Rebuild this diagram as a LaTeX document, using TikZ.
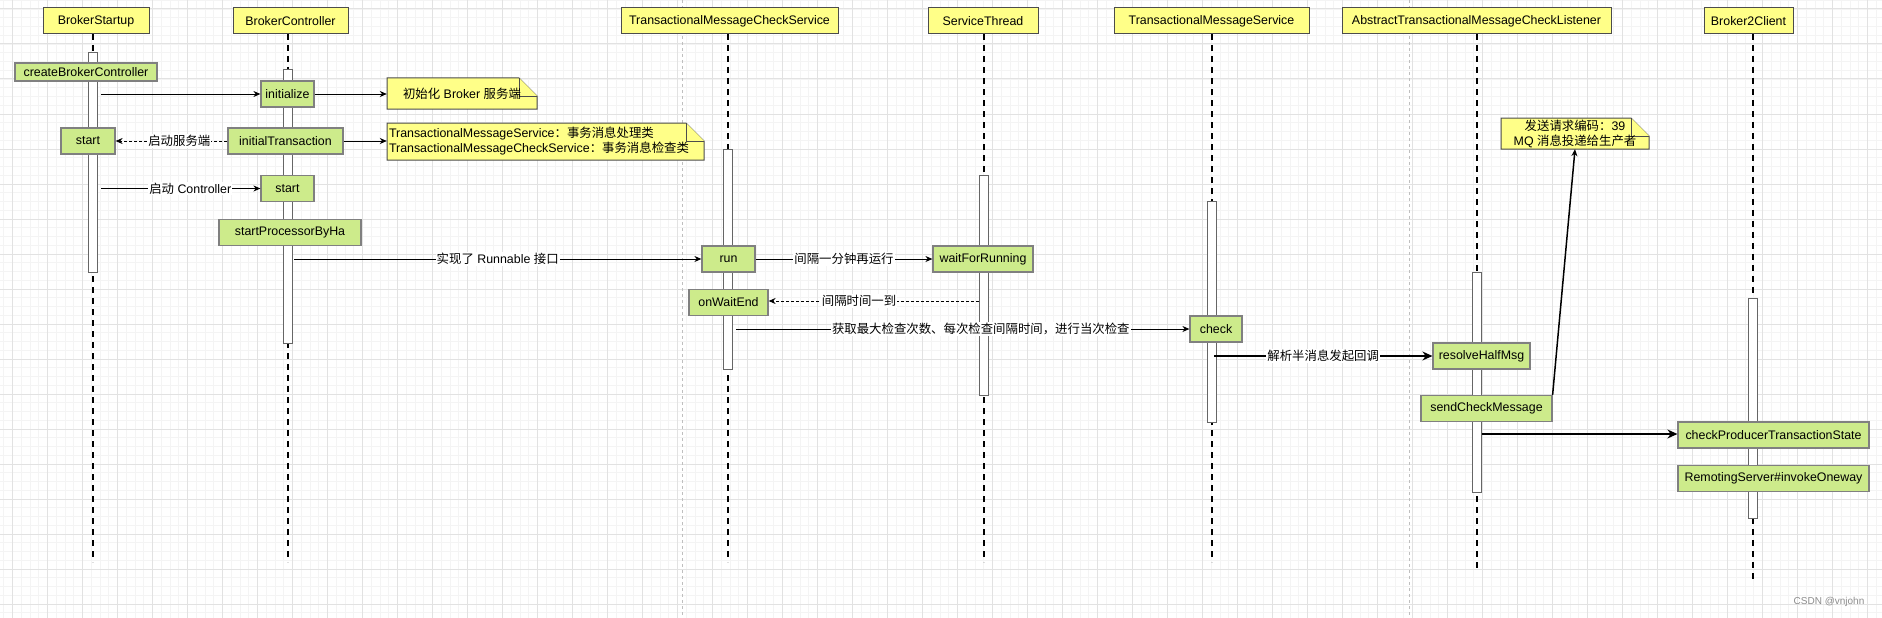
\documentclass[tikz,border=0pt]{standalone}
\usepackage{fontspec}
\setmainfont{Liberation Sans}
\newfontfamily\zhfont{Noto Sans CJK SC}
\newcommand{\zh}[1]{{\zhfont #1}}
\usetikzlibrary{arrows.meta}
\usetikzlibrary{calc}

\definecolor{hdryellow}{HTML}{FFFF88}
\definecolor{callgreen}{HTML}{CDEB8B}
\definecolor{gridmajor}{HTML}{E2E2E2}
\definecolor{gridminor}{HTML}{F4F4F4}

\begin{document}
\begin{tikzpicture}[x=1pt,y=-1pt,
    every node/.style={font=\fontsize{12.4}{15}\selectfont, inner sep=0pt},
    header/.style={draw=black!70, fill=hdryellow, line width=1pt, minimum height=26pt},
    call/.style={draw=black!50, fill=callgreen, line width=1.2pt, minimum height=26pt},
    bar/.style={draw=black!60, fill=white, line width=0.8pt},
    life/.style={line width=2pt, dash pattern=on 6pt off 5pt},
    sep/.style={draw=black!25, line width=0.7pt, dash pattern=on 3pt off 3pt},
    notefill/.style={draw=black!70, fill=hdryellow, line width=1pt},
    msg/.style={line width=1pt, -{Stealth[length=7pt,width=6pt]}},
    ret/.style={msg, dash pattern=on 3pt off 2pt},
    bold/.style={line width=2pt, -{Stealth[length=10pt,width=9pt]}},
    lbl/.style={fill=white, inner sep=1pt}]

    \useasboundingbox (0,0) rectangle (1882,618);

    % grid
    \foreach \gx in {3.75,12.5,...,1882}
        \draw[gridminor, line width=0.8pt] (\gx,0) -- (\gx,618);
    \foreach \gy in {0.25,9,...,618}
        \draw[gridminor, line width=0.8pt] (0,\gy) -- (1882,\gy);
    \foreach \gx in {12.5,47.5,...,1882}
        \draw[gridmajor, line width=1pt] (\gx,0) -- (\gx,618);
    \foreach \gy in {9,44,...,618}
        \draw[gridmajor, line width=1pt] (0,\gy) -- (1882,\gy);

    \foreach \sx in {682,1409}
        \draw[sep] (\sx,0) -- (\sx,618);

    % lifelines and activation bars
    \foreach \lx/\bt/\bb/\le in {92.5/52/272/562, 287.5/69/343/562, 727.5/149/369/562, 983.5/175/395/562,
                                 1211.5/201/422/562, 1476.5/272/492/571, 1752.5/298/518/580} {
        \draw[life] (\lx,34) -- (\lx,\le);
        \draw[bar] (\lx-4.5,\bt) rectangle (\lx+4.5,\bb);
    }

    % headers
    \node[header, minimum width=106pt] (hStartup) at (96,21) {BrokerStartup};
    \node[header, minimum width=115pt] (hController) at (290.5,21) {BrokerController};
    \node[header, minimum width=217pt] (hCheckSvc) at (729.5,21) {TransactionalMessageCheckService};
    \node[header, minimum width=110pt] (hThread) at (983,21) {ServiceThread};
    \node[header, minimum width=195pt] (hMsgSvc) at (1211.5,21) {TransactionalMessageService};
    \node[header, minimum width=269pt] (hListener) at (1476.5,21) {AbstractTransactionalMessageCheckListener};
    \node[header, minimum width=89pt] (hClient) at (1748.5,21) {Broker2Client};

    % calls
    \node[call, minimum width=142pt, minimum height=18pt] (createCtl) at (86,72) {createBrokerController};
    \node[call, minimum width=53pt] (initialize) at (287.5,94) {initialize};
    \node[call, minimum width=54pt] (startA) at (88,141) {start};
    \node[call, minimum width=115pt] (initTx) at (285.5,141) {initialTransaction};
    \node[call, minimum width=53pt] (startB) at (287.5,188.5) {start};
    \node[call, minimum width=142pt] (startHa) at (290,232.5) {startProcessorByHa};
    \node[call, minimum width=53pt] (run) at (728.5,259) {run};
    \node[call, minimum width=100pt] (waitRun) at (983,259) {waitForRunning};
    \node[call, minimum width=79pt] (waitEnd) at (728.5,302.5) {onWaitEnd};
    \node[call, minimum width=52pt] (check) at (1216,329) {check};
    \node[call, minimum width=97pt] (resolveHalf) at (1481.5,356) {resolveHalfMsg};
    \node[call, minimum width=131pt] (sendCheck) at (1486.5,408.5) {sendCheckMessage};
    \node[call, minimum width=191pt] (checkState) at (1773.5,435) {checkProducerTransactionState};
    \node[call, minimum width=191pt] (oneway) at (1773.5,478.5) {RemotingServer\#invokeOneway};

    % notes
    \foreach \xa/\ya/\xb/\yb in {387/78/537/109, 387/123/704/160, 1501/118/1649/149} {
        \draw[notefill] (\xa,\ya) -- (\xb-18,\ya) -- (\xb,\ya+18) -- (\xb,\yb) -- (\xa,\yb) -- cycle;
        \draw[notefill] (\xb-18,\ya) -- (\xb-18,\ya+18) -- (\xb,\ya+18);
    }
    \node[minimum width=150pt, minimum height=31pt] (note1) at (462,93.5) {\zh{初始化} Broker \zh{服务端}};
    \node[minimum width=317pt, minimum height=37pt, text width=313pt, align=left] (note2) at (545.5,141.5)
        {TransactionalMessageService\zh{：事务消息处理类}\\TransactionalMessageCheckService\zh{：事务消息检查类}};
    \node[minimum width=148pt, minimum height=31pt, align=center] (note3) at (1575,133.5)
        {\zh{发送请求编码：}39\\MQ \zh{消息投递给生产者}};

    % messages
    \coordinate (m1) at (101,94);
    \draw[msg] (m1) -- (initialize.west);
    \draw[msg] (initialize.east) -- (initialize.east -| note1.west);
    \draw[ret] (initTx.west) -- node[lbl, pos=0.43] {\zh{启动服务端}} (startA.east);
    \draw[msg] (initTx.east) -- (initTx.east -| note2.west);
    \coordinate (m2) at (101,188.5);
    \draw[msg] (m2) -- node[lbl, pos=0.56] {\zh{启动} Controller} (startB.west);
    \coordinate (m3) at (294,259);
    \draw[msg] (m3) -- node[lbl] {\zh{实现了} Runnable \zh{接口}} (run.west);
    \draw[msg] (run.east) -- node[lbl] {\zh{间隔一分钟再运行}} (waitRun.west);
    \coordinate (m4) at (979,301);
    \draw[ret] (m4) -- node[lbl, pos=0.57] {\zh{间隔时间一到}} (m4 -| waitEnd.east);
    \coordinate (m5) at (736,329);
    \draw[msg] (m5) -- node[lbl, pos=0.54] {\zh{获取最大检查次数、每次检查间隔时间，进行当次检查}} (check.west);
    \coordinate (m6) at (1214,356);
    \draw[bold] (m6) -- node[lbl] {\zh{解析半消息发起回调}} (resolveHalf.west);
    \draw[msg, line width=1.5pt] (sendCheck.north east) -- (note3.south);
    \coordinate (m7) at (1482,434);
    \draw[bold] (m7) -- (m7 -| checkState.west);

    \node[text=black!45, font=\fontsize{10}{12}\selectfont] (mark) at (1829,602) {CSDN @vnjohn};
\end{tikzpicture}
\end{document}
